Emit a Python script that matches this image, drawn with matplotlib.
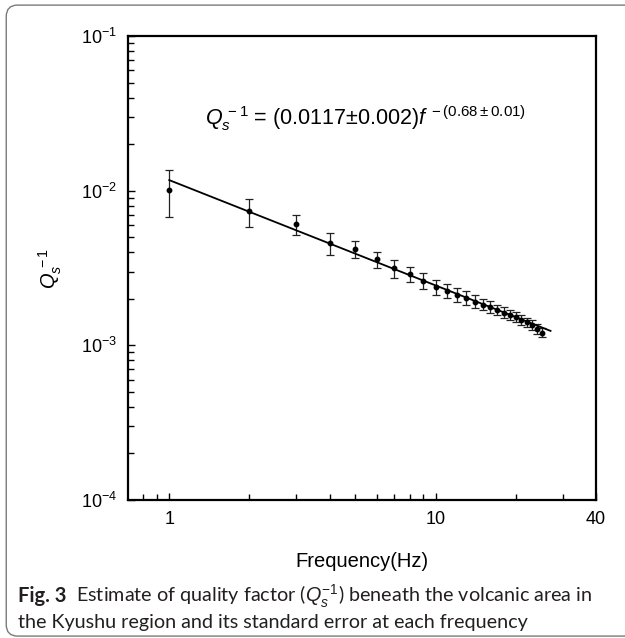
import numpy as np
import matplotlib
matplotlib.use("Agg")
import matplotlib.pyplot as plt
from matplotlib.patches import FancyBboxPatch
from matplotlib.ticker import FixedLocator, NullFormatter

freq = [1, 2, 3, 4, 5, 6, 7, 8, 9, 10, 11, 12, 13,
        14, 15, 16, 17, 18, 19, 20, 21, 22, 23, 24, 25]
qinv = [0.0101, 0.00735, 0.0061, 0.00457, 0.00421, 0.00359, 0.00314, 0.00289,
        0.00261, 0.00239, 0.00226, 0.00212, 0.00202, 0.00192, 0.00183, 0.00176,
        0.00169, 0.00163, 0.00158, 0.00152, 0.00146, 0.00141, 0.00135, 0.00127,
        0.00121]
q_hi = [0.0135, 0.00884, 0.0070, 0.00533, 0.00474, 0.00404, 0.00355, 0.00323,
        0.00292, 0.00264, 0.00251, 0.00235, 0.00223, 0.00212, 0.00200, 0.00193,
        0.00183, 0.00177, 0.00170, 0.00164, 0.00157, 0.00151, 0.00145, 0.00137,
        0.00130]
q_lo = [0.0068, 0.00586, 0.0052, 0.00386, 0.00368, 0.00314, 0.00272, 0.00258,
        0.00232, 0.00211, 0.00201, 0.00191, 0.00183, 0.00174, 0.00168, 0.00161,
        0.00156, 0.00151, 0.00146, 0.00141, 0.00136, 0.00131, 0.00126, 0.00118,
        0.00113]
fit_f = [1, 27]
fit_q = [0.0117, 0.00124]

xticks_major = [1, 10, 40]
xticks_minor = [0.8, 0.9, 2, 3, 4, 5, 6, 7, 8, 9, 20, 30]

plt.rcParams["font.family"] = ["Liberation Sans", "DejaVu Sans"]
plt.rcParams["mathtext.fontset"] = "custom"
plt.rcParams["mathtext.rm"] = "Liberation Sans"
plt.rcParams["mathtext.it"] = "Liberation Sans:italic"
plt.rcParams["mathtext.bf"] = "Liberation Sans:bold"

fig = plt.figure(figsize=(6.25, 6.38), dpi=100)

# rounded frame of the figure panel
frame = FancyBboxPatch((0.010, 0.003), 1.2, 0.989, transform=fig.transFigure,
                       boxstyle="round,pad=0,rounding_size=0.018",
                       fc="none", ec="#7a7a7a", lw=1.0, clip_on=False)
fig.patches.append(frame)

ax = fig.add_axes([0.2048, 0.2163, 0.7488, 0.7273])
q = np.array(qinv)
yerr = [q - np.array(q_lo), np.array(q_hi) - q]
ax.errorbar(freq, qinv, yerr=yerr, fmt="o", color="k", ms=3.2,
            ecolor="#222222", elinewidth=0.9, capsize=2.8, capthick=0.9)
ax.plot(fit_f, fit_q, color="k", lw=1.3)

ax.set_xscale("log")
ax.set_yscale("log")
ax.set_xlim(0.7, 40)
ax.set_ylim(1e-4, 1e-1)

ax.xaxis.set_major_locator(FixedLocator(xticks_major))
ax.xaxis.set_minor_locator(FixedLocator(xticks_minor))
ax.set_xticklabels([str(v) for v in xticks_major])
ax.xaxis.set_minor_formatter(NullFormatter())
ax.tick_params(axis="both", which="both", direction="in", labelsize=13,
               top=False, right=False)
ax.tick_params(axis="both", which="major", length=5, width=1.0, pad=8)
ax.tick_params(axis="both", which="minor", length=4, width=1.0)
for s in ax.spines.values():
    s.set_linewidth(1.6)

ax.set_xlabel("Frequency(Hz)", fontsize=14.5, labelpad=17)
ax.set_ylabel(r"$Q_s^{\,-1}$", fontsize=14.5, labelpad=12)

ax.text(0.165, 0.822,
        r"$Q_s^{\,-1}$ = (0.0117±0.002)$f^{\;-(0.68\pm0.01)}$",
        transform=ax.transAxes, fontsize=15.5, va="center", ha="left")

# caption
cap_font = ["Lato", "DejaVu Sans"]
fig.text(0.029, 0.056, "Fig. 3", fontsize=14.5, fontweight="bold",
         family=cap_font, color="#231f20", va="baseline")
fig.text(0.122, 0.056,
         r"Estimate of quality factor ($Q_s^{-1}$) beneath the volcanic area in",
         fontsize=14.2, family=cap_font, color="#231f20", va="baseline")
fig.text(0.029, 0.016, "the Kyushu region and its standard error at each frequency",
         fontsize=14.2, family=cap_font, color="#231f20", va="baseline")

fig.savefig("out.png", dpi=100)
